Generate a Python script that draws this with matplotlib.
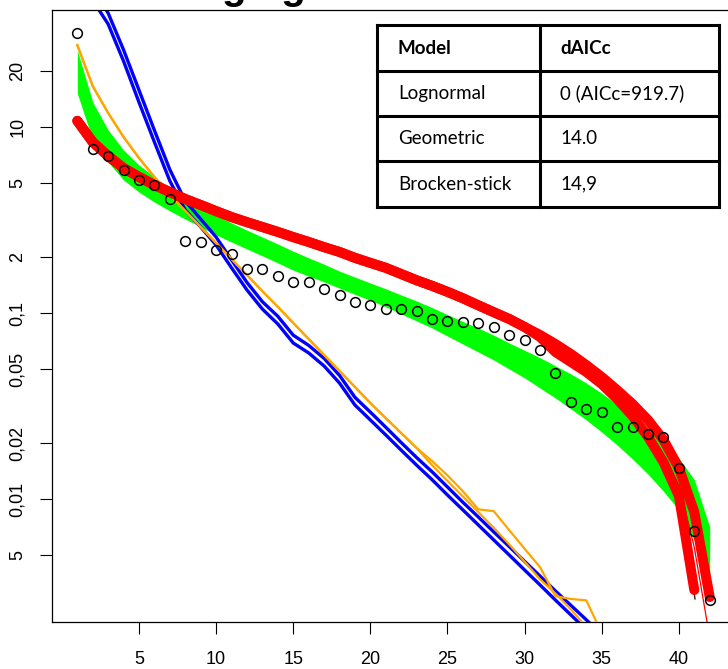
import matplotlib
matplotlib.use("Agg")
import matplotlib.pyplot as plt
import numpy as np
from matplotlib.ticker import NullLocator

# ---- data -------------------------------------------------------------
ranks = np.arange(1, 43)

observed = [31.9, 7.62, 7.01, 5.89, 5.19, 4.86, 4.09, 2.45, 2.41, 2.18,
            2.08, 1.72, 1.72, 1.59, 1.47, 1.46, 1.35, 1.25, 1.14, 1.11,
            1.05, 1.05, 1.02, 0.93, 0.91, 0.90, 0.88, 0.84, 0.76, 0.72,
            0.63, 0.474, 0.334, 0.304, 0.295, 0.244, 0.244, 0.224, 0.215,
            0.146, 0.0676, 0.0287]

# lognormal envelope (green band)
lognorm_hi = [25.9, 13.6, 9.63, 7.52, 6.25, 5.39, 4.70, 4.15, 3.72, 3.36,
              3.05, 2.79, 2.56, 2.35, 2.15, 1.98, 1.83, 1.68, 1.56, 1.45,
              1.35, 1.25, 1.16, 1.07, 0.98, 0.90, 0.83, 0.76, 0.69,
              0.63, 0.575, 0.52, 0.47, 0.42, 0.37, 0.322, 0.280, 0.238,
              0.200, 0.166, 0.127, 0.0707]
lognorm_lo = [15.2, 8.51, 6.48, 5.19, 4.47, 3.95, 3.54, 3.20, 2.90, 2.63,
              2.41, 2.21, 2.03, 1.86, 1.70, 1.58, 1.47, 1.36, 1.26, 1.17,
              1.08, 0.988, 0.906, 0.831, 0.752, 0.681, 0.617, 0.559, 0.500,
              0.448, 0.395, 0.349, 0.305, 0.266, 0.229, 0.195, 0.164, 0.136,
              0.110, 0.0873, 0.0602, 0.0345]

# broken-stick simulations (red)
bstick_a = [10.8, 8.30, 6.98, 6.02, 5.39, 4.88, 4.47, 4.10, 3.81, 3.53,
            3.28, 3.08, 2.90, 2.73, 2.56, 2.41, 2.26, 2.13, 1.98, 1.86,
            1.75, 1.62, 1.50, 1.40, 1.30, 1.20, 1.10, 1.01, 0.929, 0.841,
            0.762, 0.681, 0.602, 0.525, 0.453, 0.385, 0.324, 0.266, 0.208,
            0.147, 0.0851, 0.0297]
bstick_b = [10.8, 8.30, 6.98, 6.02, 5.39, 4.88, 4.47, 4.10, 3.81, 3.53,
            3.28, 3.08, 2.90, 2.73, 2.56, 2.41, 2.26, 2.13, 1.98, 1.86,
            1.75, 1.62, 1.50, 1.40, 1.30, 1.20, 1.10, 1.01, 0.929, 0.841,
            0.743, 0.617, 0.545, 0.482, 0.415, 0.345, 0.279, 0.216, 0.158,
            0.104, 0.0324]
bstick_tail_ranks = [40, 41, 42]
bstick_tail = [0.12, 0.055, 0.018]
bstick_edge_ranks = [39.3, 40.0, 41.05]
bstick_edge = [0.131, 0.092, 0.029]

# geometric simulations (blue)
geom_lo = [100, 48, 35.8, 22.6, 13.6, 8.3, 5.13, 3.58, 2.90, 2.32,
           1.75, 1.33, 1.05, 0.873, 0.690, 0.610, 0.519, 0.420, 0.320,
           0.266, 0.221, 0.183, 0.152, 0.127, 0.105, 0.0873, 0.0725,
           0.0602, 0.050, 0.0415, 0.0345, 0.0286, 0.0238, 0.0198]
geom_hi = [115, 56, 41, 26, 15.8, 9.6, 5.9, 4.0, 3.2, 2.56,
           1.93, 1.46, 1.15, 0.96, 0.76, 0.67, 0.57, 0.462, 0.352, 0.293,
           0.243, 0.201, 0.167, 0.140, 0.116, 0.096, 0.080, 0.0665, 0.0555,
           0.0462, 0.0385, 0.032, 0.0268, 0.0224, 0.0187]

# second geometric-type fit (orange)
orange_a = [27.6, 16.6, 11.9, 8.84, 6.81, 5.39, 4.31, 3.54, 2.90, 2.38,
            1.95, 1.60, 1.31, 1.08, 0.884, 0.725, 0.595, 0.488, 0.400,
            0.328, 0.272, 0.226, 0.188, 0.152, 0.125, 0.103, 0.085,
            0.070, 0.057, 0.046, 0.037, 0.031, 0.0255, 0.0205]
orange_b = [27.6, 16.6, 11.9, 8.84, 6.81, 5.39, 4.31, 3.54, 2.90, 2.38,
            1.95, 1.60, 1.31, 1.08, 0.884, 0.725, 0.595, 0.488, 0.400,
            0.328, 0.272, 0.226, 0.188, 0.160, 0.134, 0.110, 0.088,
            0.086, 0.068, 0.054, 0.043, 0.030, 0.029, 0.0285, 0.019]

ytick_vals = [20, 10, 5, 2, 1, 0.5, 0.2, 0.1, 0.05]
ytick_labels = ["20", "10", "5", "2", "0,1", "0,05", "0,02", "0,01", "5"]
xtick_vals = [5, 10, 15, 20, 25, 30, 35, 40]

title_text = "ging"

table_rows = [["Model", "dAICc"],
              ["Lognormal", "0 (AICc=919.7)"],
              ["Geometric", "14.0"],
              ["Brocken-stick", "14,9"]]

# ---- figure -----------------------------------------------------------
W, H = 728, 669
fig = plt.figure(figsize=(W / 100, H / 100), dpi=100)
ax = fig.add_axes([52 / W, 1 - 622 / H, (735 - 52) / W, (622 - 10) / H])
ax.set_yscale("log")
ax.set_xlim(-0.64, 43.64)
ax.set_ylim(0.0218, 42.6)

ax.fill_between(ranks, lognorm_lo, lognorm_hi, color="#00FF00", lw=0,
                zorder=1)
ax.plot(ranks[:len(geom_lo)], geom_lo, color="#0000FF", lw=2.4, zorder=2)
ax.plot(ranks[:len(geom_hi)], geom_hi, color="#0000FF", lw=2.4, zorder=2)
ax.plot(ranks[:len(orange_a)], orange_a, color="#FFA500", lw=1.6, zorder=3)
ax.plot(ranks[:len(orange_b)], orange_b, color="#FFA500", lw=1.6, zorder=3)
ax.plot(bstick_edge_ranks, bstick_edge, color="#220000", lw=0.9, zorder=3.5)
ax.plot(ranks[:len(bstick_a)], bstick_a, color="#FF0000", lw=7.2,
        solid_capstyle="round", zorder=4)
ax.plot(ranks[:len(bstick_b)], bstick_b, color="#FF0000", lw=7.2,
        solid_capstyle="round", zorder=4)
ax.plot(bstick_tail_ranks, bstick_tail, color="#FF0000", lw=0.9, zorder=4)
ax.plot(ranks, observed, "o", mfc="none", mec="black", mew=1.1, ms=7,
        zorder=5)

ax.set_yticks(ytick_vals)
ax.set_yticklabels(ytick_labels, rotation=90, va="center")
ax.yaxis.set_minor_locator(NullLocator())
ax.set_xticks(xtick_vals)
ax.set_xticklabels([str(v) for v in xtick_vals])
for lab in ax.get_xticklabels() + ax.get_yticklabels():
    lab.set_fontfamily("Liberation Sans")
    lab.set_fontsize(13)
ax.tick_params(axis="x", length=8.6, width=0.8, pad=12)
ax.tick_params(axis="y", length=8.6, width=0.8, pad=10)
for sp in ax.spines.values():
    sp.set_linewidth(0.9)

# ---- helpers for figure pixel coordinates -----------------------------
def fx(px):
    return px / W

def fy(py):
    return 1 - py / H

# main title, mostly above the top edge of the canvas
fig.text(fx(221), fy(-1), title_text, ha="left", va="baseline",
         fontsize=29, family="Liberation Sans", fontweight="bold")

# ---- model comparison table -------------------------------------------
tx0, tx1, tcol = 377, 719, 540
row_edges = [25, 71, 116, 161, 207]
tab_lw = 2.2
fig.patches.append(plt.Rectangle((fx(tx0), fy(row_edges[-1])),
                                 fx(tx1) - fx(tx0),
                                 fy(row_edges[0]) - fy(row_edges[-1]),
                                 transform=fig.transFigure,
                                 facecolor="white", edgecolor="none"))
for ry in row_edges:
    fig.add_artist(plt.Line2D([fx(tx0), fx(tx1)], [fy(ry), fy(ry)],
                              color="black", lw=tab_lw))
for cx in (tx0, tcol, tx1):
    fig.add_artist(plt.Line2D([fx(cx), fx(cx)], [fy(row_edges[0]),
                              fy(row_edges[-1])], color="black", lw=tab_lw))
for i, row in enumerate(table_rows):
    cy = (row_edges[i] + row_edges[i + 1]) / 2
    for j, cell in enumerate(row):
        cx = 398 if j == 0 else 560
        fig.text(fx(cx), fy(cy), cell, ha="left", va="center",
                 fontsize=13.5, family="Lato",
                 fontweight="bold" if i == 0 else "normal")

fig.savefig("out.png", dpi=100)
